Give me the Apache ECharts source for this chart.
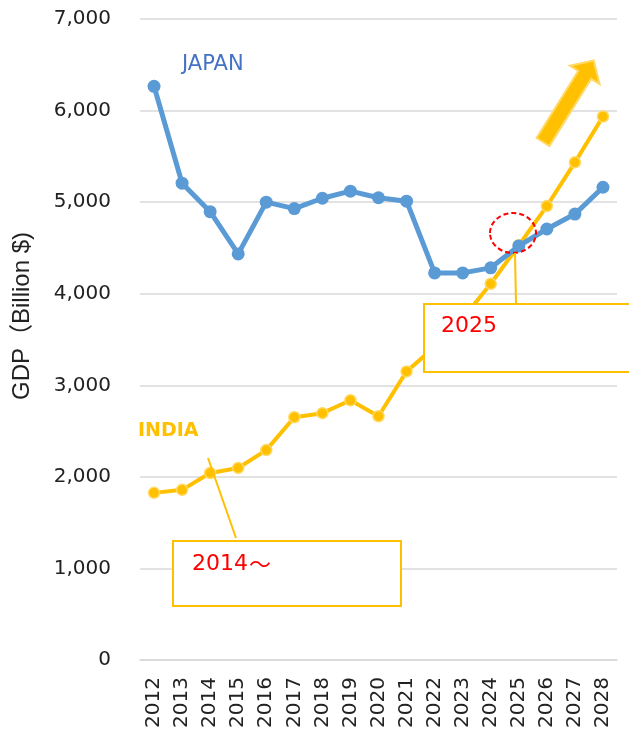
<!DOCTYPE html>
<html><head><meta charset="utf-8">
<script src="https://cdn.jsdelivr.net/npm/echarts@6/dist/echarts.min.js"></script>
<style>html,body{margin:0;padding:0;background:#fff}#c{width:629px;height:731px}</style>
</head><body><div id="c"></div>
<script>
const years = ['2012','2013','2014','2015','2016','2017','2018','2019','2020','2021','2022','2023','2024','2025','2026','2027','2028'];
const japan = [6265,5207,4896,4435,5000,4930,5043,5120,5048,5011,4228,4228,4283,4522,4707,4870,5163];
const india = [1826,1859,2043,2098,2293,2652,2696,2837,2663,3152,3420,3730,4109,4530,4957,5435,5935];
const yTicks = { min: 0, max: 7000, interval: 1000 };
const yTitle = 'GDP（Billion $)';

const chart = echarts.init(document.getElementById('c'));
const gold = '#FFC000';
chart.setOption({
  animation: false,
  grid: { left: 140, right: 12, top: 19, bottom: 68 },
  xAxis: {
    type: 'category', data: years, boundaryGap: true,
    axisTick: { show: false },
    axisLine: { lineStyle: { color: '#D9D9D9', width: 1.5 } },
    axisLabel: { rotate: 90, margin: 17, fontSize: 20, fontFamily: 'DejaVu Sans', color: '#222' }
  },
  yAxis: {
    type: 'value', min: yTicks.min, max: yTicks.max, interval: yTicks.interval,
    axisLine: { show: false }, axisTick: { show: false },
    axisLabel: { margin: 29, fontSize: 20, fontFamily: 'DejaVu Sans', color: '#222' },
    splitLine: { lineStyle: { color: '#D9D9D9', width: 1.5 } }
  },
  series: [
    { name: 'INDIA', type: 'line', data: india, symbol: 'circle', symbolSize: 11,
      lineStyle: { color: gold, width: 4 },
      itemStyle: { color: gold, borderColor: '#FFD966', borderWidth: 1.5 }, z: 2 },
    { name: 'JAPAN', type: 'line', data: japan, symbol: 'circle', symbolSize: 13,
      lineStyle: { color: '#5B9BD5', width: 5 },
      itemStyle: { color: '#5B9BD5' }, z: 3 }
  ],
  graphic: { elements: [
    { type: 'text', z: 100, x: 22, y: 316, rotation: Math.PI / 2,
      style: { text: yTitle, fill: '#222', font: '24px "Liberation Sans", "Noto Sans CJK JP"', textAlign: 'center', textVerticalAlign: 'middle' } },
    { type: 'text', z: 100, style: { x: 182, y: 65, text: 'JAPAN', fill: '#4472C4', font: '21px "DejaVu Sans"', textVerticalAlign: 'middle' } },
    { type: 'text', z: 100, style: { x: 138, y: 431, text: 'INDIA', fill: gold, font: 'bold 19px "DejaVu Sans"', textVerticalAlign: 'middle' } },
    { type: 'polygon', z: 100, shape: { points: [[536.6,138],[549.4,146],[591.1,78.9],[599.6,84.1],[593.7,60.5],[569.8,65.7],[578.3,70.9]] },
      style: { fill: gold, stroke: '#FFD966', lineWidth: 2 } },
    { type: 'ellipse', z: 100, shape: { cx: 513, cy: 233, rx: 23, ry: 20 },
      style: { fill: 'none', stroke: '#FF0000', lineWidth: 2, lineDash: [5, 3] } },
    { type: 'line', z: 100, shape: { x1: 515, y1: 253, x2: 516, y2: 304 }, style: { stroke: gold, lineWidth: 2 } },
    { type: 'rect', z: 100, shape: { x: 424, y: 304, width: 206, height: 68 }, style: { fill: '#fff', stroke: gold, lineWidth: 2 } },
    { type: 'text', z: 101, style: { x: 441, y: 326, text: '2025', fill: '#FF0000', font: '22px "DejaVu Sans"', textVerticalAlign: 'middle' } },
    { type: 'line', z: 100, shape: { x1: 208, y1: 458, x2: 236, y2: 538 }, style: { stroke: gold, lineWidth: 2 } },
    { type: 'rect', z: 100, shape: { x: 173, y: 541, width: 228, height: 65 }, style: { fill: '#fff', stroke: gold, lineWidth: 2 } },
    { type: 'text', z: 101, style: { x: 192, y: 564, text: '2014', fill: '#FF0000', font: '22px "DejaVu Sans"', textVerticalAlign: 'middle' } },
    { type: 'text', z: 101, style: { x: 249, y: 564, text: '～', fill: '#FF0000', font: '22px "Noto Sans CJK JP"', textVerticalAlign: 'middle' } }
  ] }
});
</script></body></html>
